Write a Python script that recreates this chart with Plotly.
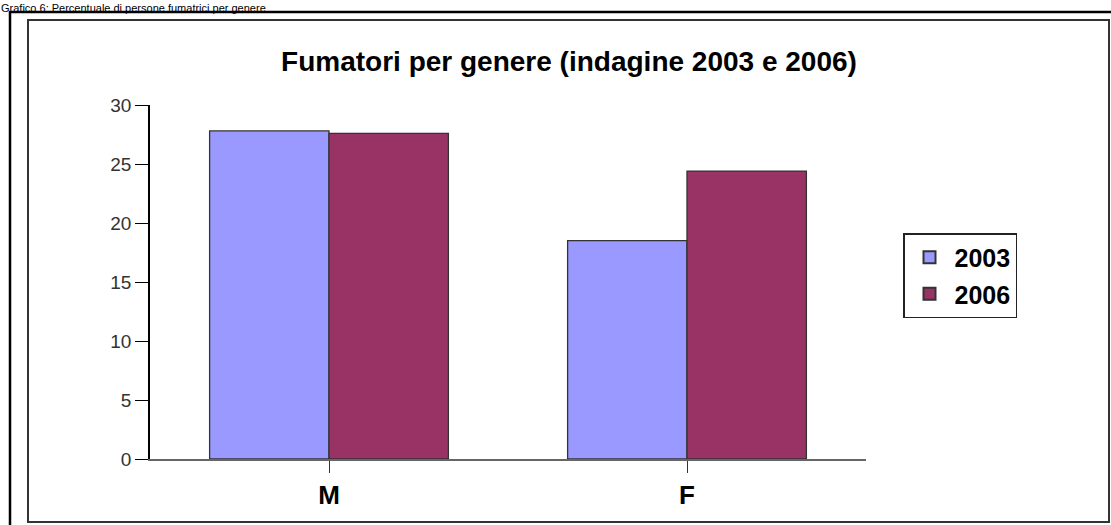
import plotly.graph_objects as go

categories = ["M", "F"]
series_names = ["2003", "2006"]
values_2003 = [27.8, 18.5]
values_2006 = [27.6, 24.4]
y_ticks = [0, 5, 10, 15, 20, 25, 30]
colors = ["#9999FF", "#993366"]

W, H = 1111, 525
L, R, T, B = 150, 866, 105, 459  # plot area in pixels


def X(px):
    return (px - L) / (R - L)


def Y(py):
    return (B - py) / (B - T)


FONT = "Arial, 'Liberation Sans', sans-serif"

fig = go.Figure()
for name, vals, col in zip(series_names, [values_2003, values_2006], colors):
    fig.add_trace(go.Bar(
        x=categories, y=vals, name=name, legendgroup=name,
        marker=dict(color=col, line=dict(color="#333333", width=1.3)),
    ))

fig.update_layout(
    width=W, height=H,
    margin=dict(l=L, r=W - R, t=T, b=H - B),
    paper_bgcolor="white", plot_bgcolor="white",
    barmode="group", bargap=0.333, bargroupgap=0,
    title=dict(text="<b>Fumatori per genere (indagine 2003 e 2006)</b>",
               x=569 / W, xanchor="center", xref="container",
               y=1 - 61 / H, yanchor="middle", yref="container",
               font=dict(family=FONT, size=28, color="#000000")),
    legend=dict(x=X(903), y=Y(233), xanchor="left", yanchor="top",
                bordercolor="#222222", borderwidth=1.5, bgcolor="white",
                font=dict(family=FONT, size=25, color="#000000", weight="bold"),
                tracegroupgap=1, itemsizing="constant", itemwidth=40,
                entrywidth=80, entrywidthmode="pixels"),
    font=dict(family=FONT),
)

fig.update_xaxes(
    showline=True, linecolor="#666666", linewidth=2,
    ticks="outside", ticklen=12, tickcolor="#333333", tickwidth=1,
    tickfont=dict(family=FONT, size=26, color="#000000", weight="bold"),
    showgrid=False, zeroline=False,
)
fig.update_yaxes(
    range=[0, 30], tickvals=y_ticks, ticktext=[str(v) for v in y_ticks],
    showline=True, linecolor="#000000", linewidth=1.5,
    ticks="outside", ticklen=13, tickcolor="#000000", tickwidth=1.2,
    tickfont=dict(family=FONT, size=19, color="#333333"),
    showgrid=False, zeroline=False,
)

# outer frame
fig.add_shape(type="rect", xref="paper", yref="paper",
              x0=X(10), x1=X(1130), y0=Y(12), y1=Y(540),
              line=dict(color="#000000", width=2.5), layer="below")
# inner frame
fig.add_shape(type="rect", xref="paper", yref="paper",
              x0=X(28), x1=X(1109), y0=Y(20), y1=Y(522),
              line=dict(color="#333333", width=2), layer="below")

# caption above the frame
fig.add_annotation(text="Grafico 6: Percentuale di persone fumatrici per genere",
                   xref="paper", yref="paper", x=X(0), y=Y(7.5),
                   xanchor="left", yanchor="middle", showarrow=False,
                   borderpad=0,
                   font=dict(family=FONT, size=11, color="#000000"))

fig.write_html("out.html", post_script="document.body.style.margin='0';",
               config={"displayModeBar": False})
